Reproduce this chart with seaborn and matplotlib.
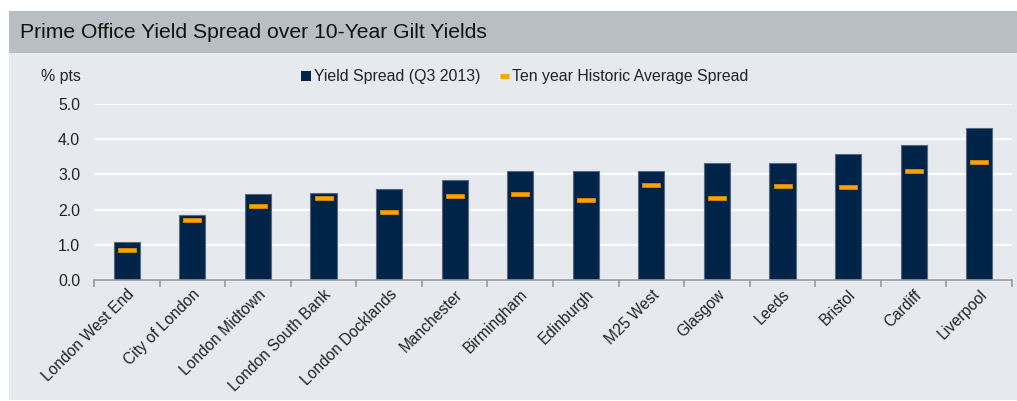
import matplotlib
matplotlib.use("Agg")
import matplotlib.pyplot as plt
from matplotlib.patches import Rectangle, Patch
from matplotlib.lines import Line2D
import seaborn as sns
import pandas as pd

# Data
markets = ["London West End", "City of London", "London Midtown", "London South Bank",
           "London Docklands", "Manchester", "Birmingham", "Edinburgh", "M25 West",
           "Glasgow", "Leeds", "Bristol", "Cardiff", "Liverpool"]
spread_q3_2013 = [1.07, 1.84, 2.43, 2.48, 2.58, 2.83, 3.09, 3.09, 3.09,
                  3.33, 3.33, 3.58, 3.84, 4.33]
ten_year_avg = [0.85, 1.71, 2.11, 2.32, 1.93, 2.40, 2.44, 2.28, 2.69,
                2.32, 2.68, 2.64, 3.09, 3.36]
y_ticks = [0.0, 1.0, 2.0, 3.0, 4.0, 5.0]

df = pd.DataFrame({"market": markets, "spread": spread_q3_2013, "avg": ten_year_avg})

NAVY = "#002348"
ORANGE = "#FFA200"
PANEL = "#E6E9EE"
BAND = "#B9BEC4"

sns.set_theme(style="white")
plt.rcParams["font.family"] = ["Liberation Sans", "DejaVu Sans"]

W, H = 1017, 401
fig = plt.figure(figsize=(W / 100, H / 100), dpi=100)
fig.patch.set_facecolor("white")

# Panel backgrounds (title band + light body)
fig.patches.append(Rectangle((9 / W, 1 - 53 / H), 1 - 9 / W, 42 / H,
                             transform=fig.transFigure, facecolor=BAND,
                             edgecolor="none", zorder=-10))
fig.patches.append(Rectangle((9 / W, 1 - 400 / H), 1 - 9 / W, 347 / H,
                             transform=fig.transFigure, facecolor=PANEL,
                             edgecolor="none", zorder=-10))

fig.text(20 / W, 1 - 33 / H, "Prime Office Yield Spread over 10-Year Gilt Yields",
         fontsize=15.2, color="#111111", va="center", ha="left")

ax = fig.add_axes([94 / W, 1 - 280 / H, (1012 - 94) / W, (280 - 104) / H])
ax.set_zorder(2)
ax.set_facecolor(PANEL)

sns.barplot(data=df, x="market", y="spread", color=NAVY, saturation=1,
            width=0.4, edgecolor="#56697F", linewidth=0.8, ax=ax, zorder=3)

# Historic average shown as short horizontal dashes
dash = [(-1, -0.27), (1, -0.27), (1, 0.27), (-1, 0.27), (-1, -0.27)]
sns.scatterplot(data=df, x="market", y="avg", marker=dash, s=170,
                color=ORANGE, edgecolor="#D98A00", linewidth=0.6,
                ax=ax, zorder=4, legend=False)

ax.set_ylim(0, 5)
ax.set_xlim(-0.5, len(markets) - 0.5)
ax.set_yticks(y_ticks)
ax.set_yticklabels([f"{v:.1f}" for v in y_ticks], fontsize=11.4, color="#222222")
ax.yaxis.grid(True, color="white", linewidth=1.6, zorder=0)
ax.set_axisbelow(True)
ax.set_xlabel("")
ax.set_ylabel("")

for side in ["left", "right", "top"]:
    ax.spines[side].set_visible(False)
ax.spines["bottom"].set_color("#9A9A9A")
ax.spines["bottom"].set_linewidth(1.2)
ax.spines["bottom"].set_zorder(5)

# Category boundary ticks on the x axis
ax.set_xticks([i - 0.5 for i in range(len(markets) + 1)], minor=False)
ax.set_xticklabels([])
ax.set_xticks(range(len(markets)), minor=True)
ax.set_xticklabels(markets, minor=True, rotation=45, ha="right",
                   rotation_mode="anchor", fontsize=11.2, color="#222222")
ax.tick_params(axis="x", which="major", length=5, width=1.2, color="#9A9A9A",
               direction="out", bottom=True)
ax.tick_params(axis="x", which="minor", length=0, pad=5)
ax.tick_params(axis="y", length=0, pad=10)

fig.text(61 / W, 1 - 77 / H, "% pts", fontsize=11.4, color="#222222",
         ha="center", va="center")

handles = [Patch(facecolor=NAVY, edgecolor="none"),
           Line2D([0], [0], color=ORANGE, linewidth=3.5, solid_capstyle="butt")]
fig.legend(handles, ["Yield Spread (Q3 2013)", "Ten year Historic Average Spread"],
           loc="center", bbox_to_anchor=(525 / W, 1 - 77 / H), ncol=2,
           frameon=False, fontsize=11.4, handlelength=0.6, handleheight=0.6,
           handletextpad=0.2, columnspacing=1.2, labelcolor="#222222")

fig.savefig("out.png", dpi=100, facecolor=fig.get_facecolor())
